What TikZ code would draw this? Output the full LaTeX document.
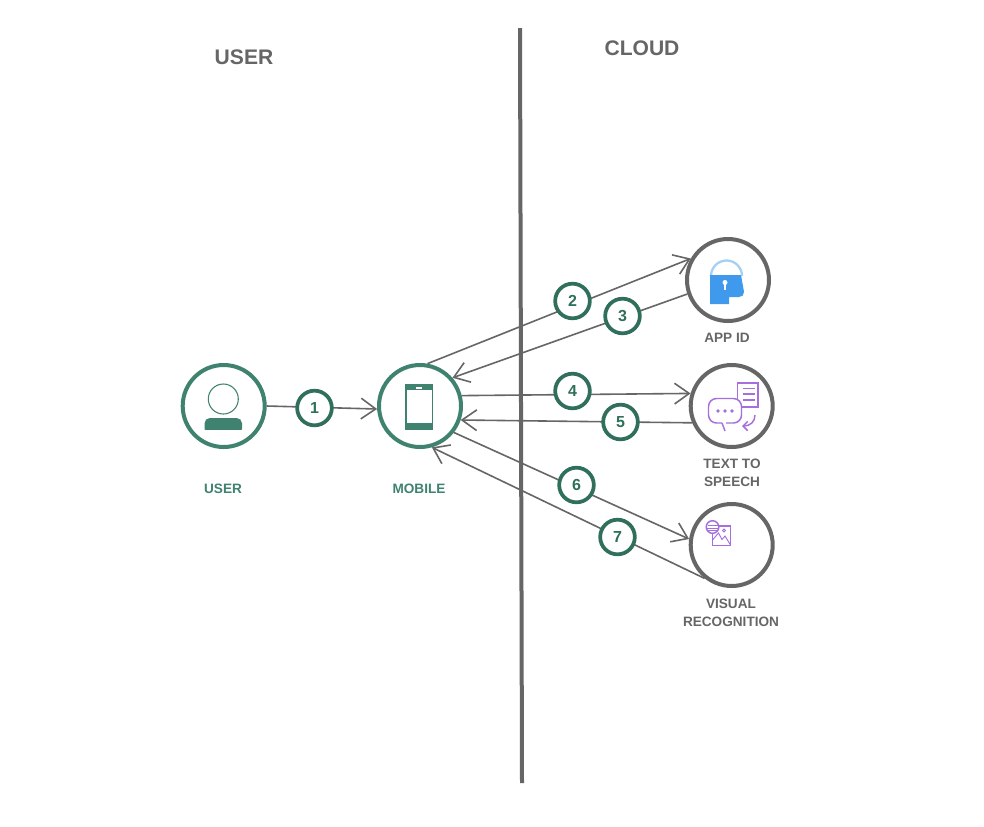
\documentclass[tikz,border=0pt]{standalone}
\usepackage{xcolor}
\usepackage{fontspec}
\setmainfont{Liberation Sans}
\usetikzlibrary{arrows.meta}
\definecolor{usergreen}{HTML}{3F8270}
\definecolor{stepgreen}{HTML}{2F6F5B}
\definecolor{labelgray}{HTML}{666666}
\definecolor{lockblue}{HTML}{3F99EC}
\definecolor{lockarc}{HTML}{A5D0F5}
\definecolor{iconpurple}{HTML}{A66FE0}
\tikzset{
    usercircle/.style={circle,draw=usergreen,line width=3pt,minimum size=61.5pt,inner sep=0pt,fill=white},
    cloudcircle/.style={circle,draw=labelgray,line width=3pt,minimum size=61.5pt,inner sep=0pt,fill=white},
    stepcircle/.style={circle,draw=stepgreen,line width=2.8pt,minimum size=26pt,inner sep=0pt,fill=white,
        text=stepgreen,font=\bfseries\fontsize{12}{14}\selectfont},
    flowline/.style={draw=labelgray,line width=1.2pt,-{Straight Barb[length=11pt,width=15.5pt,line width=1.2pt]}},
    headlabel/.style={text=labelgray,font=\bfseries\fontsize{15.8}{19}\selectfont},
    cloudlabel/.style={text=labelgray,align=center,font=\bfseries\fontsize{10.2}{13.5}\selectfont},
    userlabel/.style={text=usergreen,align=center,font=\bfseries\fontsize{10.2}{13.5}\selectfont},
    iconline/.style={draw=iconpurple,line width=1.1pt}
}
\begin{document}
\begin{tikzpicture}[x=0.75pt,y=-0.75pt]
    \useasboundingbox[fill=white] (0,0) rectangle (984,826);

    % divider
    \coordinate (dividertop) at (520,28);
    \coordinate (dividerbottom) at (522,783);
    \draw[labelgray,line width=3pt] (dividertop) -- (dividerbottom);
    \node[headlabel] (userhead) at (244,57) {USER};
    \node[headlabel] (cloudhead) at (642,48) {CLOUD};

    % main circles
    \node[usercircle] (user) at (223.7,406) {};
    \node[usercircle] (mobile) at (420,406) {};
    \node[cloudcircle] (appid) at (728,280) {};
    \node[cloudcircle] (speech) at (731.7,406) {};
    \node[cloudcircle] (visual) at (731.7,545) {};

    % labels
    \node[userlabel] (userlbl) at (223,489) {USER};
    \node[userlabel] (mobilelbl) at (419,489) {MOBILE};
    \node[cloudlabel] (appidlbl) at (727,338) {APP ID};
    \node[cloudlabel] (speechlbl) at (732,473) {TEXT TO\\SPEECH};
    \node[cloudlabel] (visuallbl) at (731,613) {VISUAL\\RECOGNITION};

    % connectors
    \draw[flowline] (user.east) -- (mobile.184);
    \draw[flowline] (mobile.80) -- (appid.150);
    \draw[flowline] (appid.199) -- (mobile.41);
    \draw[flowline] (mobile.14) -- (speech.163);
    \draw[flowline] (speech.203) -- (mobile.-19);
    \draw[flowline] (mobile.-38) -- (visual.172);
    \draw[flowline] (visual.231) -- (mobile.-74);

    % numbered steps
    \node[stepcircle] (step1) at (314.5,408) {1};
    \node[stepcircle] (step2) at (572.5,301) {2};
    \node[stepcircle] (step3) at (622.5,316) {3};
    \node[stepcircle] (step4) at (572.5,391) {4};
    \node[stepcircle] (step5) at (620.5,422) {5};
    \node[stepcircle] (step6) at (576.5,485) {6};
    \node[stepcircle] (step7) at (617.5,537) {7};

    % user icon
    \draw[usergreen,line width=0.8pt] (223.3,399) circle (15);
    \fill[usergreen,rounded corners=4pt] (204.5,434) -- (204.5,418) -- (242,418) -- (242,434) -- cycle;
    \fill[white] (200,430) rectangle (246,436);

    % mobile icon
    \fill[usergreen] (405,383.5) rectangle (433,430);
    \fill[white] (407,390) rectangle (431.5,423);
    \fill[white] (416,387) rectangle (422,388.5);

    % lock icon
    \draw[lockarc,line width=1.7pt] (711,276) arc[start angle=180,end angle=360,radius=15.5];
    \fill[lockblue] (710,275) -- (741,275) -- (743.5,289) -- (744,292) .. controls (744,295) and (742,297) .. (739,297) -- (729,297) -- (729,304) -- (710,304) -- cycle;
    \fill[white] (725,282.5) circle (2.5);
    \fill[white] (723.8,283) rectangle (726.2,290);

    % text to speech icon
    \draw[iconline,fill=white] (737.5,383) rectangle (758,407);
    \draw[iconline] (743,388.5) -- (755,388.5);
    \draw[iconline] (743,394) -- (755,394);
    \draw[iconline] (743,400) -- (755,400);
    \draw[iconline,rounded corners=6pt,fill=white] (722,423) -- (708.5,423) -- (708.5,398.5) -- (741.5,398.5) -- (741.5,423) -- (726,423);
    \draw[iconline] (722,423) -- (725,431);
    \fill[iconpurple] (718,411) circle (1.9);
    \fill[iconpurple] (725,411) circle (1.9);
    \fill[iconpurple] (732,411) circle (1.9);
    \draw[iconline,-{Straight Barb[length=3.5pt,width=7pt,line width=1.1pt]}] (755,415) .. controls (755,422) and (750,426) .. (742,426);

    % visual recognition icon
    \draw[iconline] (712.5,526) rectangle (730.5,545.5);
    \draw[iconline,line width=0.7pt] (712.5,540) -- (718.5,533) -- (722,539.5) -- (725,536) -- (730.5,545);
    \draw[iconline,line width=0.7pt] (724,530.5) circle (1.5);
    \draw[iconline,fill=white] (712.5,527) circle (6.3);
    \draw[iconline,line width=0.7pt] (708,525.5) -- (718,525.5);
    \draw[iconline,line width=0.7pt] (707,528.5) -- (718.5,528.5);
    \draw[iconline,line width=0.7pt] (708,530.5) -- (717,530.5);
\end{tikzpicture}
\end{document}
